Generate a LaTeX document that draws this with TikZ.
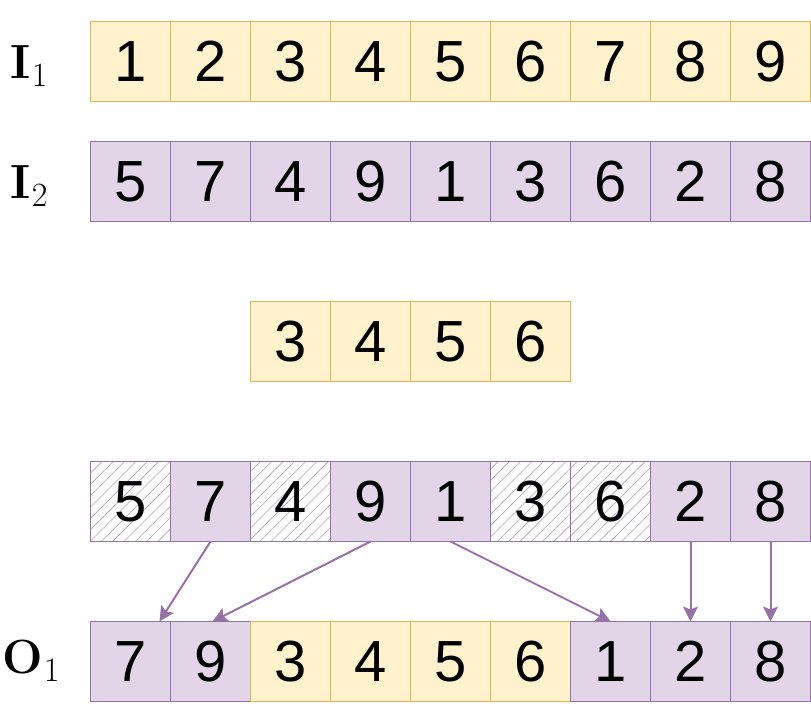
\documentclass[tikz,border=0pt]{standalone}
\usepackage{fontspec}
\newfontfamily\cellfont{Liberation Sans}
\usetikzlibrary{patterns.meta,arrows.meta}
\definecolor{yfill}{HTML}{FFF2CC}
\definecolor{ydraw}{HTML}{D6B656}
\definecolor{pfill}{HTML}{E1D5E7}
\definecolor{pdraw}{HTML}{9673A6}
\newcommand{\lblsub}[2]{{\bfseries #1}\kern1pt\raisebox{-8pt}{\fontsize{34}{34}\selectfont #2}}
\begin{document}
\begin{tikzpicture}[x=1pt,y=-1pt,
  cell/.style={minimum width=80pt, minimum height=80pt, inner sep=0pt, outer sep=0pt,
    line width=1pt, font=\cellfont\fontsize{58}{58}\selectfont, anchor=north west},
  ycell/.style={cell, fill=yfill, draw=ydraw},
  pcell/.style={cell, fill=pfill, draw=pdraw},
  hcell/.style={cell, draw=pdraw, pattern={Lines[angle=45,distance=8pt,line width=0.6pt]}, pattern color=pdraw!70},
  arr/.style={draw=pdraw, line width=2pt, -{Stealth[length=15pt,width=15pt,inset=3pt]}},
  lbl/.style={font=\fontsize{48}{56}\selectfont}]
\useasboundingbox (0,0) rectangle (811,722);
% row 1
\foreach \v [count=\i] in {1,...,9}
  \node[ycell] (a\i) at ({90.5+80*(\i-1)},21.5) {\v};
% row 2
\foreach \v [count=\i] in {5,7,4,9,1,3,6,2,8}
  \node[pcell] (b\i) at ({90.5+80*(\i-1)},141.5) {\v};
% row 3
\foreach \v [count=\i] in {3,4,5,6}
  \node[ycell] (m\i) at ({250.5+80*(\i-1)},301.5) {\v};
% row 4
\node[hcell] (c1) at (90.5,461.5) {5};
\node[pcell] (c2) at (170.5,461.5) {7};
\node[hcell] (c3) at (250.5,461.5) {4};
\node[pcell] (c4) at (330.5,461.5) {9};
\node[pcell] (c5) at (410.5,461.5) {1};
\node[hcell] (c6) at (490.5,461.5) {3};
\node[hcell] (c7) at (570.5,461.5) {6};
\node[pcell] (c8) at (650.5,461.5) {2};
\node[pcell] (c9) at (730.5,461.5) {8};
% row 5
\node[pcell] (o1) at (90.5,621.5) {7};
\node[pcell] (o2) at (170.5,621.5) {9};
\node[ycell] (o3) at (250.5,621.5) {3};
\node[ycell] (o4) at (330.5,621.5) {4};
\node[ycell] (o5) at (410.5,621.5) {5};
\node[ycell] (o6) at (490.5,621.5) {6};
\node[pcell] (o7) at (570.5,621.5) {1};
\node[pcell] (o8) at (650.5,621.5) {2};
\node[pcell] (o9) at (730.5,621.5) {8};
% labels
\node[lbl] (l1) at (29,66) {\lblsub{I}{1}};
\node[lbl] (l2) at (29,186) {\lblsub{I}{2}};
\node[lbl] (l3) at (31,661) {\lblsub{O}{1}};
% arrows
\draw[arr] (c2.south) -- ([xshift=29pt]o1.north);
\draw[arr] (c4.south) -- ([xshift=2pt]o2.north);
\draw[arr] (c5.south) -- (o7.north);
\draw[arr] (c8.south) -- (o8.north);
\draw[arr] (c9.south) -- (o9.north);
\end{tikzpicture}
\end{document}
